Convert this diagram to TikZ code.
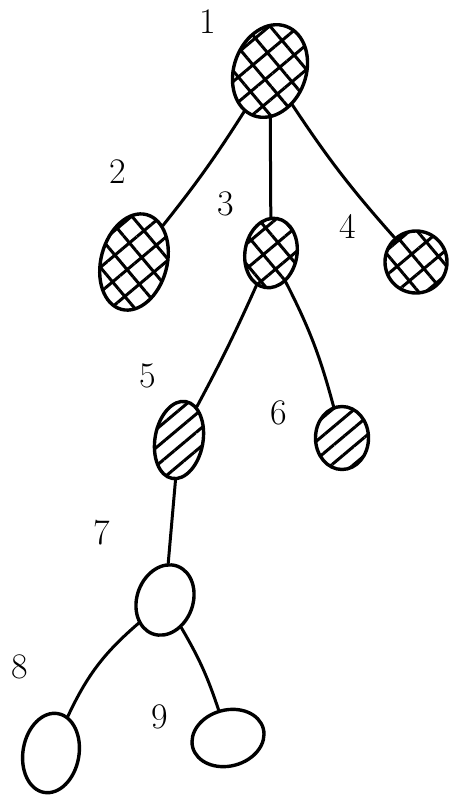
\documentclass[tikz,border=0pt]{standalone}
\usepackage{tikz}
\usetikzlibrary{positioning,shapes.geometric,patterns.meta}

\begin{document}
\begin{tikzpicture}[x=1pt, y=-1pt,
  blob/.style={draw,ellipse,line width=3.4pt,inner sep=0pt},
  cross/.style={pattern={Hatch[angle=40,distance=19pt,line width=3pt]}},
  half/.style={pattern={Lines[angle=40,distance=14pt,line width=3pt]}},
  edge/.style={line width=3pt,line cap=round},
  num/.style={font=\fontsize{36}{38}\selectfont}]
% page frame: 451 x 798 px, y grows downwards
\useasboundingbox (0,0) rectangle (451,798);
% tree nodes
\node[blob,cross,minimum width=72pt,minimum height=95pt,rotate=-20] (n1) at (270,71) {};
\node[blob,cross,minimum width=66pt,minimum height=98pt,rotate=-15] (n2) at (134,262) {};
\node[blob,cross,minimum width=52pt,minimum height=70pt,rotate=-10] (n3) at (271,253) {};
\node[blob,cross,minimum width=62pt,minimum height=62pt] (n4) at (416,262) {};
\node[blob,half,minimum width=48pt,minimum height=78pt,rotate=-10] (n5) at (179,440) {};
\node[blob,half,minimum width=53pt,minimum height=63pt] (n6) at (342,438) {};
\node[blob,minimum width=56pt,minimum height=72pt,rotate=-20] (n7) at (165,600) {};
\node[blob,minimum width=56pt,minimum height=80pt,rotate=-10] (n8) at (51,753) {};
\node[blob,minimum width=73pt,minimum height=56pt,rotate=15] (n9) at (228,738) {};
% labels
\foreach \n/\x/\y in {1/208/22,2/118/172,3/226/204,4/348/226,5/148/376,6/279/413,7/102/533,8/20/667,9/160/717}{
  \node[num] (l\n) at (\x,\y) {\n};
}
% connectors
\draw[edge] (n1) to[bend left=3] (n2);
\draw[edge] (n1) -- (n3);
\draw[edge] (n1) to[bend right=4] (n4);
\draw[edge] (n3) to[bend left=2] (n5);
\draw[edge] (n3) to[bend left=6] (n6);
\draw[edge] (n5) -- (n7);
\draw[edge] (n7) to[bend right=12] (n8);
\draw[edge] (n7) to[bend left=6] (n9);
\end{tikzpicture}
\end{document}
